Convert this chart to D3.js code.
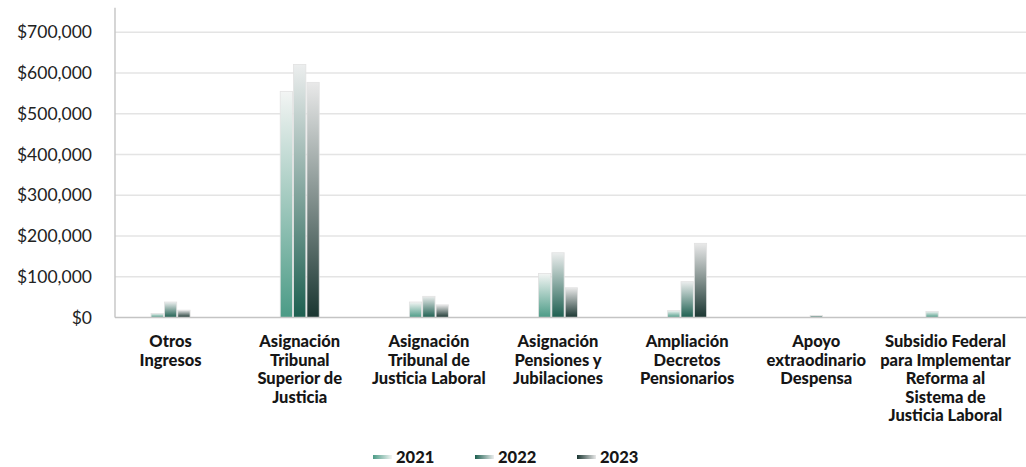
<!DOCTYPE html>
<html>
<head>
<meta charset="utf-8">
<script src="https://cdn.jsdelivr.net/npm/d3@7"></script>
<style>
    body { margin: 0; background: #fff; }
    #chart text { font-family: Lato, "Open Sans", sans-serif; }
</style>
</head>
<body>
<div id="chart"></div>
<script>
// categories, split into the lines shown under the axis
const categories = [
    ["Otros", "Ingresos"],
    ["Asignación", "Tribunal", "Superior de", "Justicia"],
    ["Asignación", "Tribunal de", "Justicia Laboral"],
    ["Asignación", "Pensiones y", "Jubilaciones"],
    ["Ampliación", "Decretos", "Pensionarios"],
    ["Apoyo", "extraodinario", "Despensa"],
    ["Subsidio Federal", "para Implementar", "Reforma al", "Sistema de", "Justicia Laboral"]
];
const years = ["2021", "2022", "2023"];
const values2021 = [10000, 555000, 38000, 108000, 17000, 0, 15000];
const values2022 = [38000, 621000, 52000, 159000, 88000, 5000, 0];
const values2023 = [18000, 577000, 31000, 73000, 182000, 0, 0];
const yTicks = [0, 100000, 200000, 300000, 400000, 500000, 600000, 700000];

const series = [values2021, values2022, values2023];
const catNames = categories.map(c => c.join(" "));

class BarChart {
    constructor() {
        this.width = 1026;
        this.height = 467;
        this.svg = d3.select("#chart").append("svg")
            .attr("width", this.width)
            .attr("height", this.height);

        this.axisX = 115;
        this.x0 = d3.scaleBand().domain(catNames).range([106, 1010]);
        this.x1 = d3.scaleBand().domain(years).range([0, 39]).paddingInner(0.08);
        this.y = d3.scaleLinear().domain([0, 760000]).range([317.5, 7.8]);

        // gradient stops: light at top, dark at bottom
        this.colors = {
            "2021": ["#f3f5f4", "#4b9b86"],
            "2022": ["#eceeee", "#1d5f50"],
            "2023": ["#e9e9e9", "#1a3631"]
        };
    }

    defs() {
        let defs = this.svg.append("defs");
        years.forEach(yr => {
            let g = defs.append("linearGradient")
                .attr("id", "bar" + yr)
                .attr("x1", 0).attr("y1", 0).attr("x2", 0).attr("y2", 1);
            g.append("stop").attr("offset", "0%").attr("stop-color", this.colors[yr][0]);
            g.append("stop").attr("offset", "100%").attr("stop-color", this.colors[yr][1]);

            let l = defs.append("linearGradient")
                .attr("id", "leg" + yr)
                .attr("x1", 0).attr("y1", 0).attr("x2", 1).attr("y2", 0);
            l.append("stop").attr("offset", "0%").attr("stop-color", this.colors[yr][1]);
            l.append("stop").attr("offset", "100%").attr("stop-color", this.colors[yr][0]);
        });
    }

    update() {
        this.defs();

        // grid
        this.svg.append("g").selectAll("line")
            .data(yTicks.filter(t => t > 0))
            .enter().append("line")
            .attr("x1", this.axisX).attr("x2", this.width)
            .attr("y1", d => this.y(d)).attr("y2", d => this.y(d))
            .attr("stroke", "#e4e4e4").attr("stroke-width", 1.6);

        // y tick labels
        this.svg.append("g").selectAll("text")
            .data(yTicks)
            .enter().append("text")
            .attr("x", 92)
            .attr("y", d => this.y(d))
            .attr("dy", "0.35em")
            .attr("text-anchor", "end")
            .style("font-size", "17.5px")
            .attr("fill", "#222")
            .text(d => "$" + d3.format(",")(d));

        // bars
        let groups = this.svg.append("g").selectAll("g")
            .data(catNames)
            .enter().append("g")
            .attr("transform", d => `translate(${this.x0(d) + this.x0.bandwidth() / 2 - 19.5},0)`);

        groups.selectAll("rect")
            .data((d, i) => years.map((yr, j) => ({year: yr, value: series[j][i]})).filter(b => b.value > 0))
            .enter().append("rect")
            .attr("x", d => this.x1(d.year))
            .attr("width", this.x1.bandwidth())
            .attr("y", d => this.y(d.value))
            .attr("height", d => this.y(0) - this.y(d.value))
            .attr("fill", d => `url(#bar${d.year})`)
            .attr("stroke", "#e2e2e2")
            .attr("stroke-width", 0.8);

        // axis lines
        this.svg.append("line")
            .attr("x1", this.axisX).attr("x2", this.width)
            .attr("y1", this.y(0)).attr("y2", this.y(0))
            .attr("stroke", "#c4c4c4").attr("stroke-width", 1.6);
        this.svg.append("line")
            .attr("x1", this.axisX).attr("x2", this.axisX)
            .attr("y1", this.y(760000)).attr("y2", this.y(0))
            .attr("stroke", "#c4c4c4").attr("stroke-width", 1.4);

        // category labels
        let labels = this.svg.append("g").selectAll("text")
            .data(categories)
            .enter().append("text")
            .attr("text-anchor", "middle")
            .style("font-size", "16.5px")
            .style("font-weight", "900")
            .attr("fill", "#161616");
        labels.selectAll("tspan")
            .data((d, i) => d.map(line => ({line: line, cat: catNames[i]})))
            .enter().append("tspan")
            .attr("x", d => this.x0(d.cat) + this.x0.bandwidth() / 2)
            .attr("y", (d, k) => 347 + k * 18.6)
            .text(d => d.line);

        // legend
        let legend = this.svg.append("g").selectAll("g")
            .data(years)
            .enter().append("g")
            .attr("transform", (d, i) => `translate(${373 + i * 102},457)`);
        legend.append("rect")
            .attr("x", 0).attr("y", -2)
            .attr("width", 19).attr("height", 4)
            .attr("fill", d => `url(#leg${d})`);
        legend.append("text")
            .attr("x", 23)
            .attr("dy", "0.36em")
            .style("font-size", "16.5px")
            .style("font-weight", "900")
            .attr("fill", "#161616")
            .text(d => d);
    }
}

let chart = new BarChart();
chart.update();
</script>
</body>
</html>
